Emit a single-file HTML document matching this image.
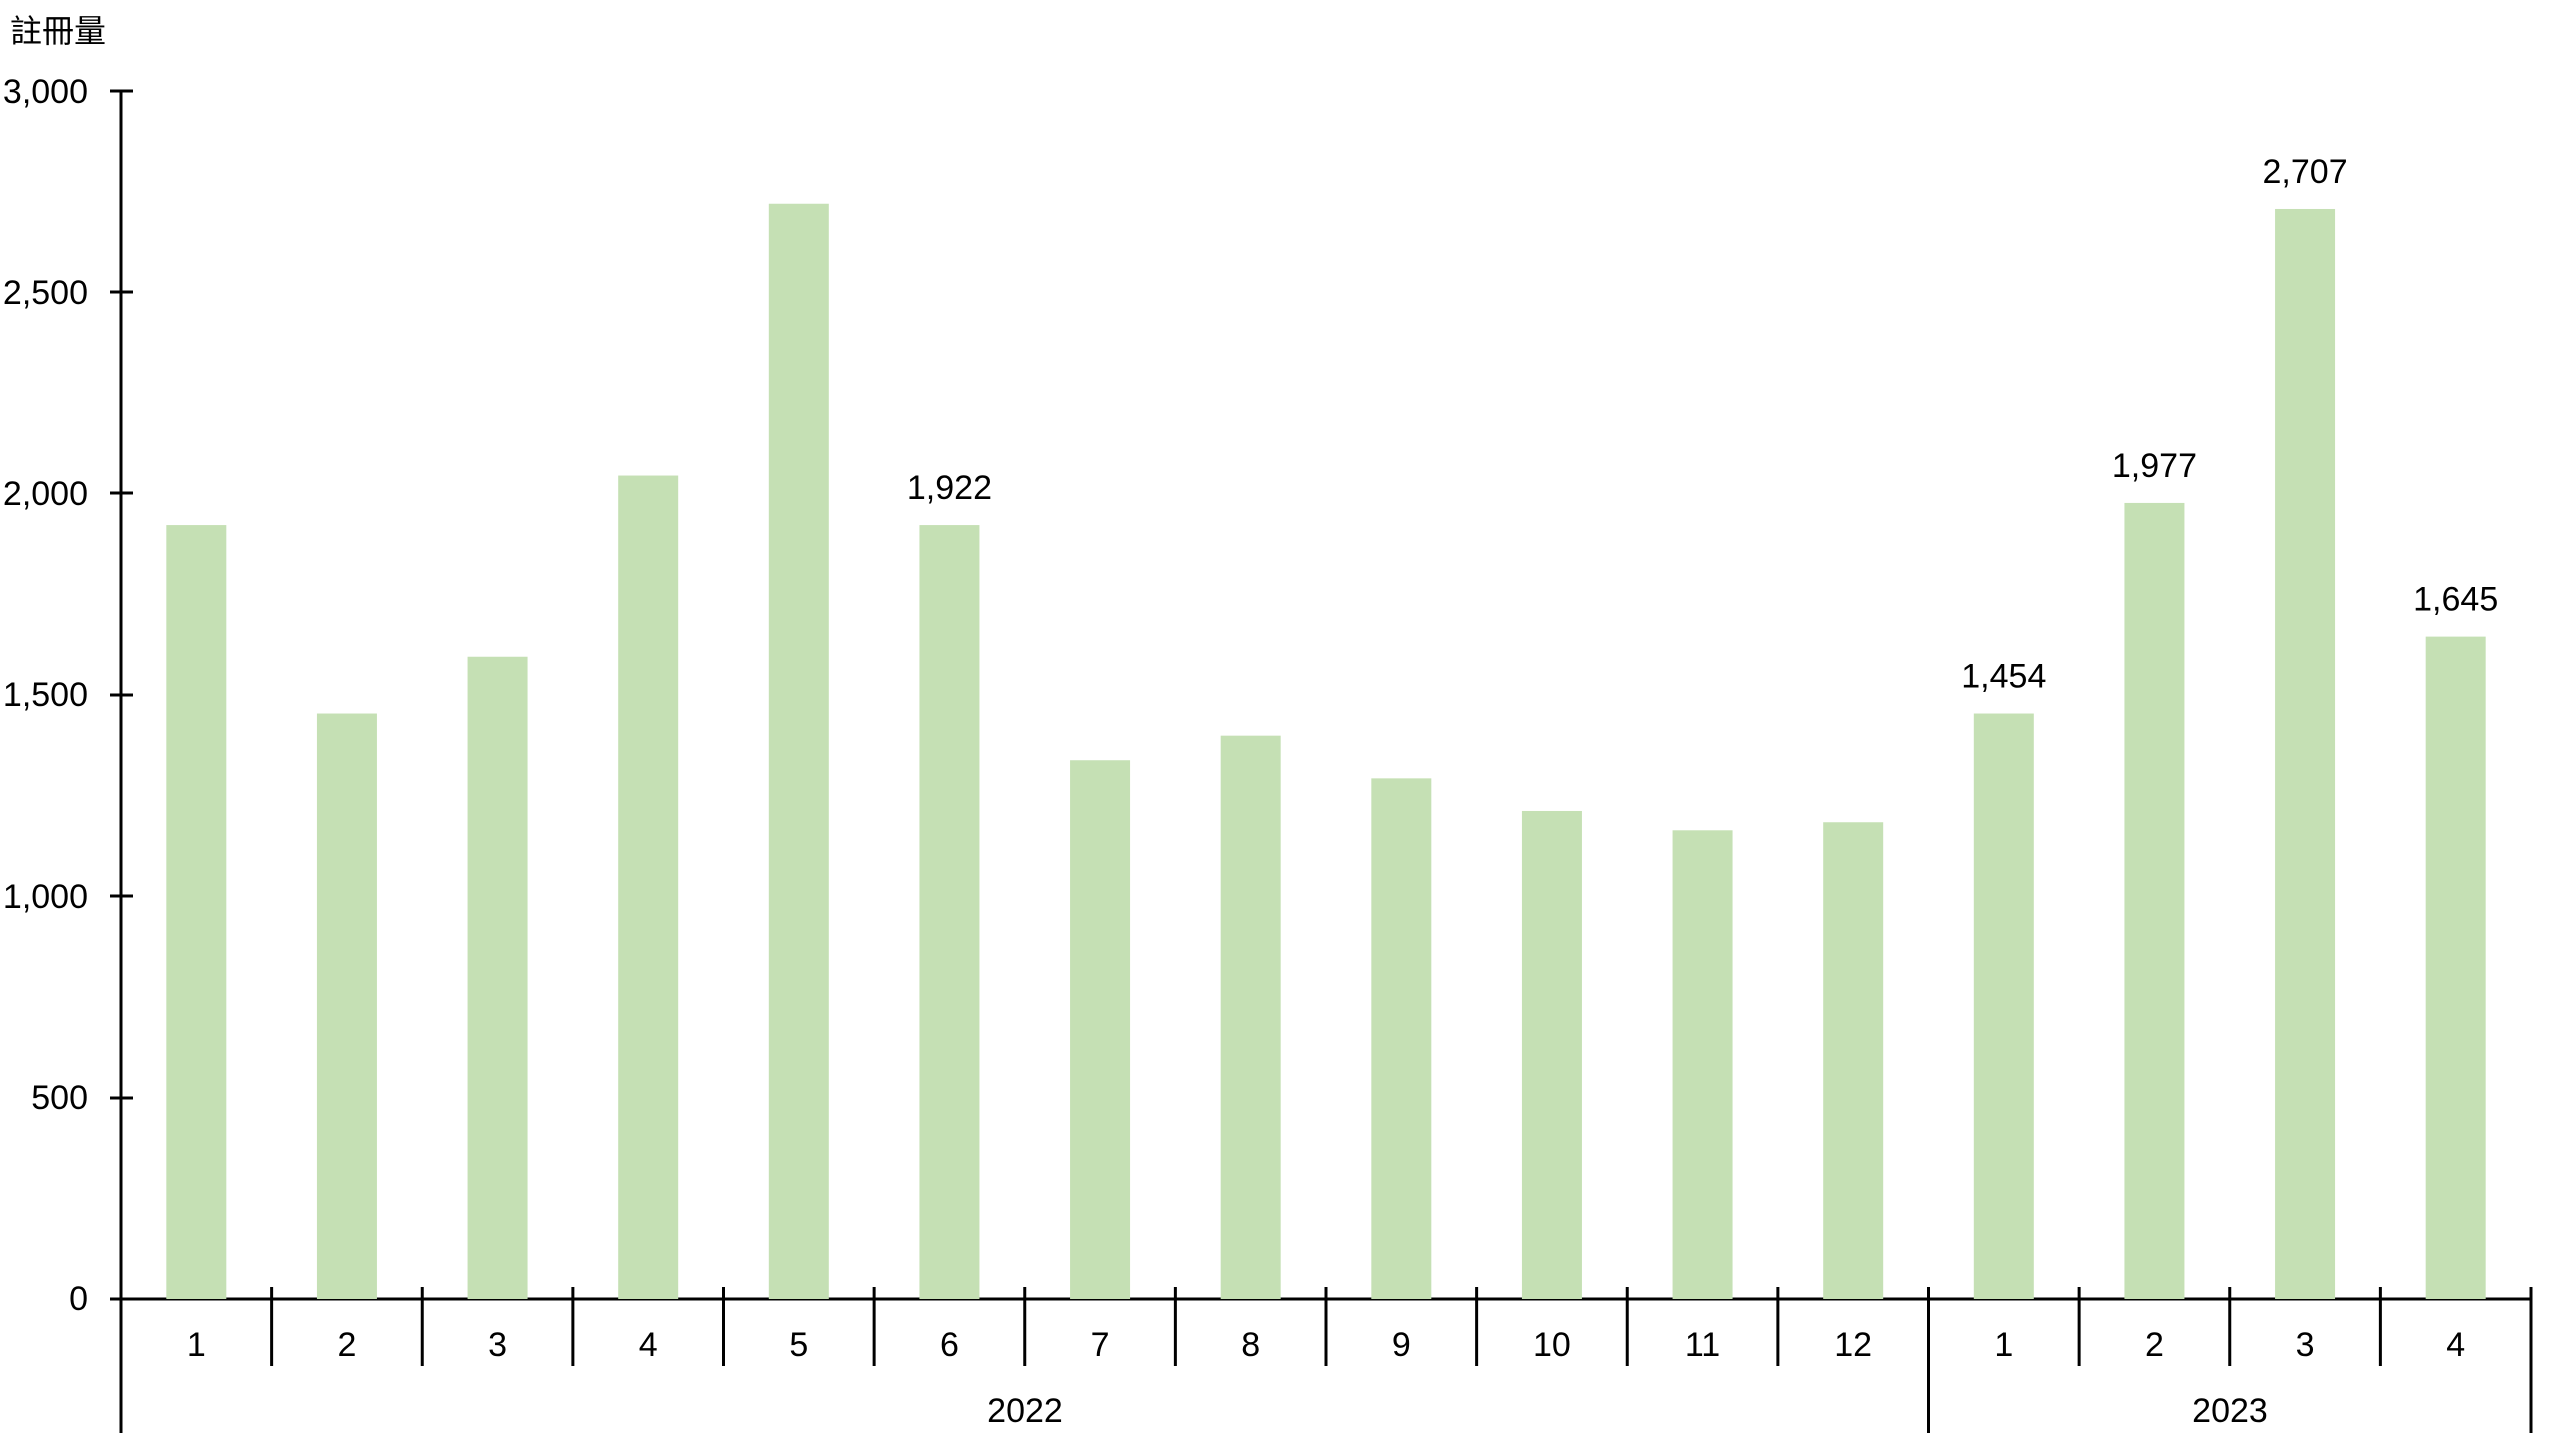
<!DOCTYPE html>
<html><head><meta charset="utf-8"><style>
html,body{margin:0;padding:0;background:#fff;}
svg{display:block;}
text{font-family:"Liberation Sans","Noto Sans CJK TC",sans-serif;fill:#000;}
</style></head><body>
<svg width="2560" height="1440" viewBox="0 0 2560 1440" xmlns="http://www.w3.org/2000/svg">
<text x="10" y="42" font-size="32">註冊量</text>
<g font-size="34" text-anchor="end">
<text x="88" y="103">3,000</text>
<text x="88" y="304">2,500</text>
<text x="88" y="505">2,000</text>
<text x="88" y="706">1,500</text>
<text x="88" y="908">1,000</text>
<text x="88" y="1109">500</text>
<text x="88" y="1310">0</text>
</g>
<g stroke="#000" stroke-width="3">
<line x1="121" y1="90" x2="121" y2="1433"/>
<line x1="110" y1="91" x2="133" y2="91"/>
<line x1="110" y1="292" x2="133" y2="292"/>
<line x1="110" y1="493" x2="133" y2="493"/>
<line x1="110" y1="695" x2="133" y2="695"/>
<line x1="110" y1="896" x2="133" y2="896"/>
<line x1="110" y1="1098" x2="133" y2="1098"/>
<line x1="110" y1="1299" x2="2531" y2="1299"/>
</g>
<g id="bars" fill="#c5e0b4"></g>
<g id="ticks" stroke="#000" stroke-width="3"></g>
<g id="labels" font-size="34" text-anchor="middle"></g>
<g font-size="34" text-anchor="middle">
<text x="1025" y="1422">2022</text>
<text x="2230" y="1422">2023</text>
</g>
<script>
var v=[1922,1454,1595,2045,2720,1922,1338,1399,1293,1212,1164,1184,1454,1977,2707,1645];
var lab={5:1,12:1,13:1,14:1,15:1};
var ns="http://www.w3.org/2000/svg",w=2410/16,s=1208/3000;
var B=document.getElementById('bars'),T=document.getElementById('ticks'),L=document.getElementById('labels');
function el(t,a,p,txt){var e=document.createElementNS(ns,t);for(var k in a)e.setAttribute(k,a[k]);if(txt)e.textContent=txt;p.appendChild(e);}
for(var i=0;i<16;i++){
 var c=121+w*(i+0.5),h=v[i]*s;
 el('rect',{x:c-30,y:1299-h,width:60,height:h},B);
 el('text',{x:c,y:1356},L,String(i<12?i+1:i-11));
 if(lab[i])el('text',{x:c,y:1299-h-26},L,v[i].toLocaleString('en-US'));
 var x=121+w*(i+1);
 var y2=(i==11||i==15)?1433:1366;
 el('line',{x1:x,y1:1287,x2:x,y2:y2},T);
}
</script>
</svg>
</body></html>
